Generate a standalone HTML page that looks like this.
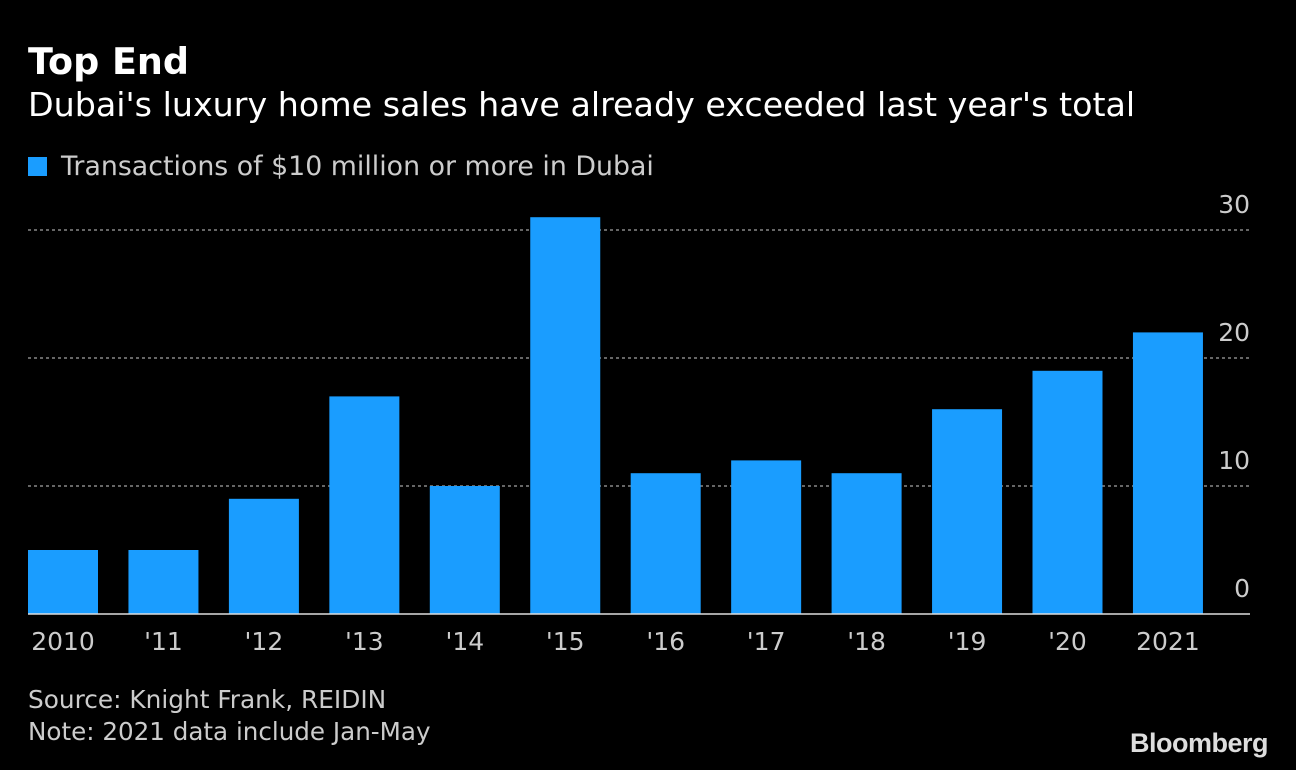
<!DOCTYPE html>
<html><head><meta charset="utf-8"><style>
body{margin:0;width:1296px;height:770px;background:#000;overflow:hidden;font-family:"DejaVu Sans",sans-serif;color:#fff}
.t{position:absolute;white-space:nowrap}
</style></head><body>
<div class="t" style="left:28px;top:40px;font-size:36.5px;font-weight:bold">Top End</div>
<div class="t" style="left:28px;top:85px;font-size:33.3px">Dubai's luxury home sales have already exceeded last year's total</div>
<div class="t" style="left:28px;top:151px;font-size:26.8px;color:#ccc"><span style="display:inline-block;width:19px;height:19px;background:#1a9dff;margin-right:14px;vertical-align:-1px"></span>Transactions of $10 million or more in Dubai</div>
<svg id="chart" width="1296" height="770" style="position:absolute;left:0;top:0"></svg>
<div class="t" style="left:28px;top:685px;font-size:24.8px;color:#ccc">Source: Knight Frank, REIDIN</div>
<div class="t" style="left:28px;top:717px;font-size:24.6px;color:#ccc">Note: 2021 data include Jan-May</div>
<div class="t" style="right:28px;top:728px;font-size:27px;font-weight:bold;color:#ddd;letter-spacing:-0.5px;font-family:'Liberation Sans',sans-serif">Bloomberg</div>
<script>
const categories=["2010","'11","'12","'13","'14","'15","'16","'17","'18","'19","'20","2021"];
const values=[5,5,9,17,10,31,11,12,11,16,19,22];
const yTicks=[0,10,20,30];
const NS="http://www.w3.org/2000/svg";
const svg=document.getElementById('chart');
const y0=614,pxPer=12.8,left=28,right=1250,step=100.45,bw=70;
const y=v=>y0-v*pxPer;
const x=i=>left+i*step;
function mk(t,a){const e=document.createElementNS(NS,t);for(const k in a)e.setAttribute(k,a[k]);svg.appendChild(e);return e;}
yTicks.forEach(v=>{
  if(v>0){const g=mk('line',{x1:left,x2:right,y1:y(v),y2:y(v),stroke:'#888','stroke-width':1.5,'stroke-dasharray':'3,3'});
  
  }
  const t=mk('text',{x:right,y:y(v)-17,'text-anchor':'end',fill:'#ccc','font-size':25,'font-family':'DejaVu Sans, sans-serif'});
  t.textContent=v;
  
  
});
values.forEach((v,i)=>{
  const r=mk('rect',{x:x(i),y:y(v),width:bw,height:v*pxPer,fill:'#1a9dff'});
  
  
  const t=mk('text',{x:x(i)+bw/2,y:650,'text-anchor':'middle',fill:'#ccc','font-size':25,'font-family':'DejaVu Sans, sans-serif'});
  t.textContent=categories[i];
  
  
});
const ax=mk('line',{x1:left,x2:right,y1:y0,y2:y0,stroke:'#ddd','stroke-width':1.5});


</script>
</body></html>
